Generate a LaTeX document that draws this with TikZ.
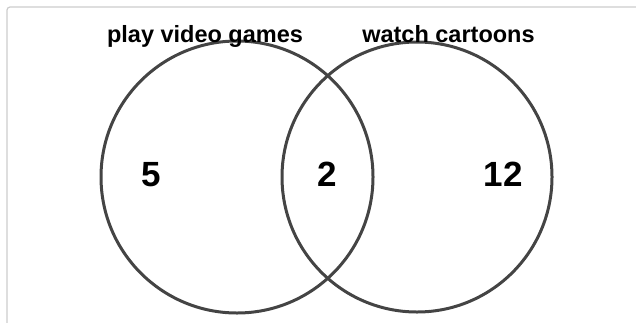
\documentclass[tikz,border=0pt]{standalone}
\usepackage{fontspec}
\setmainfont{Liberation Sans}
\definecolor{ringcol}{HTML}{444444}
\definecolor{framecol}{HTML}{CCCCCC}
\begin{document}
\begin{tikzpicture}[x=1pt,y=-1pt,
  ring/.style={draw=ringcol,line width=3pt},
  setlabel/.style={font=\fontsize{23.5}{28}\selectfont\bfseries,anchor=base,inner sep=0pt},
  count/.style={font=\fontsize{35}{42}\selectfont\bfseries,inner sep=0pt}]
\useasboundingbox (0,0) rectangle (636,322);
\clip (0,0) rectangle (636,322);
\draw[framecol,line width=1.2pt,rounded corners=3pt] (7,7) rectangle (680,360);
\node[ring,circle,minimum size=272pt,inner sep=0pt] (A) at (237,177) {};
\node[ring,circle,minimum size=270pt,inner sep=0pt] (B) at (417,177) {};
\node[setlabel] (la) at (205,42) {play video games};
\node[setlabel] (lb) at (448.5,42) {watch cartoons};
\node[count] (na) at (151,174.5) {5};
\node[count] (nab) at (327,174.5) {2};
\node[count] (nb) at (503,174.5) {12};
\end{tikzpicture}
\end{document}
